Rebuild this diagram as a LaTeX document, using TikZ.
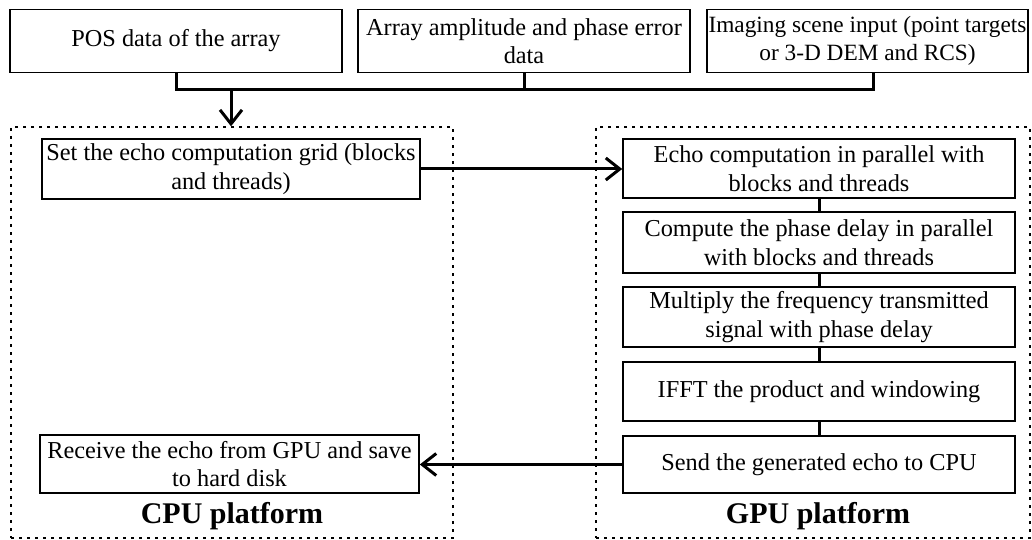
\documentclass[tikz,border=0pt]{standalone}
\usepackage{fontspec}
\setmainfont{Liberation Serif}
\usetikzlibrary{arrows.meta}
\begin{document}
\begin{tikzpicture}[x=1pt,y=-1pt,
  box/.style={draw,line width=1.6pt,align=center,inner sep=0pt,
    font=\fontsize{24.3}{28.5}\selectfont},
  frame/.style={draw,line width=1.4pt,dash pattern=on 3pt off 5pt,inner sep=0pt},
  label/.style={font=\fontsize{30}{33}\selectfont\bfseries},
  link/.style={line width=3pt},
  flow/.style={line width=3pt,-{Straight Barb[length=14pt,width=22pt]}}]
\useasboundingbox (0,0) rectangle (1032,540);

% input data
\node[box,minimum width=332pt,minimum height=63pt] (pos) at (176,41) {POS data of the array};
\node[box,minimum width=332pt,minimum height=63pt] (amp) at (524,41) {Array amplitude and phase error\\data};
\node[box,minimum width=321pt,minimum height=63pt,font=\fontsize{23.3}{28.5}\selectfont] (scene) at (867.5,41) {Imaging scene input (point targets\\or 3-D DEM and RCS)};

% platforms
\node[frame,minimum width=442pt,minimum height=411pt] (cpu) at (232,332.5) {};
\node[frame,minimum width=434pt,minimum height=411pt] (gpu) at (813,332.5) {};
\node[label] (cpulab) at (232,516) {CPU platform};
\node[label] (gpulab) at (818,516) {GPU platform};

% input bus
\coordinate (busL) at (176,90);
\coordinate (busM) at (231,90);
\coordinate (busC) at (524,90);
\coordinate (busR) at (873,90);
\draw[link] (pos.south) -- (busL) -- (busR) -- (scene.south -| busR);
\draw[link] (amp.south) -- (busC);
\draw[flow] (busM) -- (busM |- cpu.north);

% CPU steps
\node[box,minimum width=378pt,minimum height=60pt] (grid) at (231,169) {Set the echo computation grid (blocks\\and threads)};
\node[box,minimum width=379pt,minimum height=58pt] (recv) at (229.5,464) {Receive the echo from GPU and save\\to hard disk};

% GPU steps
\node[box,minimum width=392pt,minimum height=59pt] (g1) at (819,168.5) {Echo computation in parallel with\\blocks and threads};
\node[box,minimum width=392pt,minimum height=61pt] (g2) at (819,242.5) {Compute the phase delay in parallel\\with blocks and threads};
\node[box,minimum width=392pt,minimum height=60pt] (g3) at (819,317) {Multiply the frequency transmitted\\signal with phase delay};
\node[box,minimum width=392pt,minimum height=59pt] (g4) at (819,391.5) {IFFT the product and windowing};
\node[box,minimum width=392pt,minimum height=57pt] (g5) at (819,464.5) {Send the generated echo to CPU};

\draw[link] (g1) -- (g2);
\draw[link] (g2) -- (g3);
\draw[link] (g3) -- (g4);
\draw[link] (g4) -- (g5);

\draw[flow] (grid.east) -- (g1.west |- grid.east);
\draw[flow] (g5.west) -- (recv.east |- g5.west);
\end{tikzpicture}
\end{document}
